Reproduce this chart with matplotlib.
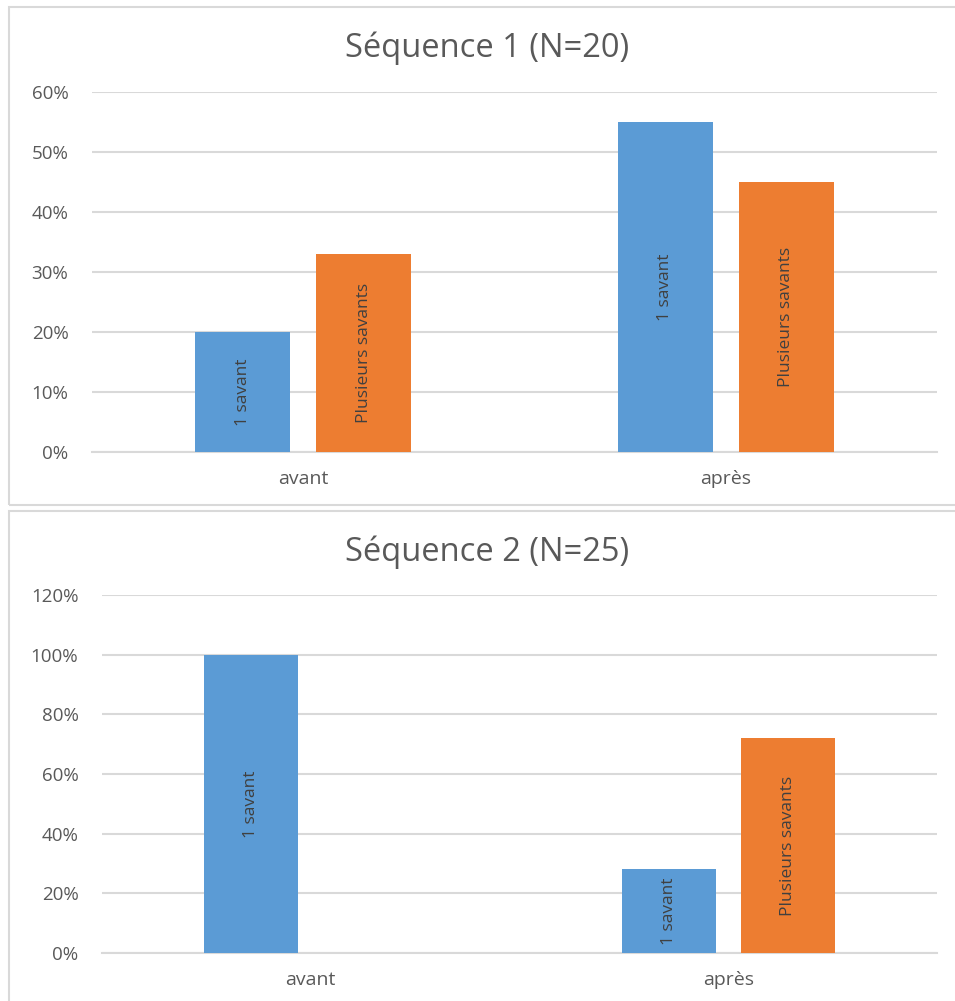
import matplotlib
matplotlib.use("Agg")
import matplotlib.pyplot as plt
from matplotlib.patches import Rectangle
from matplotlib.ticker import PercentFormatter
import numpy as np

plt.rcParams['font.family'] = ['Open Sans', 'DejaVu Sans']

categories = ["avant", "après"]
series_names = ["1 savant", "Plusieurs savants"]

seq1_title = "Séquence 1 (N=20)"
seq1_un = [20, 55]
seq1_plusieurs = [33, 45]
seq1_ticks = [0, 10, 20, 30, 40, 50, 60]

seq2_title = "Séquence 2 (N=25)"
seq2_un = [100, 28]
seq2_plusieurs = [0, 72]
seq2_ticks = [0, 20, 40, 60, 80, 100, 120]

BLUE = "#5B9BD5"
ORANGE = "#ED7D31"
TEXT = "#595959"
GRID = "#D9D9D9"


def draw_panel(fig, rect, title, title_y, un, plusieurs, ticks):
    ax = fig.add_axes(rect)
    x = np.arange(len(categories))
    w = 0.225
    off = 0.143
    bars = [
        ax.bar(x - off, un, w, color=BLUE, zorder=3),
        ax.bar(x + off, plusieurs, w, color=ORANGE, zorder=3),
    ]
    for name, bc in zip(series_names, bars):
        for b in bc:
            h = b.get_height()
            if h <= 0:
                continue
            ax.text(b.get_x() + b.get_width() / 2, h / 2, name, rotation=90,
                    ha="center", va="center", fontsize=12.5, color="#404040",
                    zorder=4)
    ax.set_xlim(-0.5, len(categories) - 0.5)
    ax.set_ylim(ticks[0], ticks[-1])
    ax.set_yticks(ticks)
    ax.yaxis.set_major_formatter(PercentFormatter(decimals=0))
    ax.set_xticks(x)
    ax.set_xticklabels(categories)
    ax.tick_params(axis="y", length=0, pad=17, labelsize=13.5, labelcolor=TEXT)
    ax.tick_params(axis="x", length=0, pad=13, labelsize=14, labelcolor=TEXT)
    ax.grid(axis="y", color=GRID, linewidth=1.5, zorder=0)
    ax.set_axisbelow(True)
    for s in ["top", "right", "left"]:
        ax.spines[s].set_visible(False)
    ax.spines["bottom"].set_color(GRID)
    ax.spines["bottom"].set_linewidth(1.5)
    fig.text(0.51, title_y, title, ha="center", va="center", fontsize=23.5,
             color=TEXT)
    return ax


fig = plt.figure(figsize=(9.55, 10.01), dpi=100)

# chart borders
fig.patches.append(Rectangle((9 / 955, 1 - 505 / 1001), 950 / 955, 498 / 1001,
                             transform=fig.transFigure, fill=False,
                             edgecolor=GRID, linewidth=1.5))
fig.patches.append(Rectangle((9 / 955, -0.01), 950 / 955, 1 - 511 / 1001 + 0.01,
                             transform=fig.transFigure, fill=False,
                             edgecolor=GRID, linewidth=1.5))

draw_panel(fig, [92 / 955, 1 - 452 / 1001, 845 / 955, 360 / 1001],
           seq1_title, 1 - 48 / 1001, seq1_un, seq1_plusieurs, seq1_ticks)
draw_panel(fig, [102 / 955, 1 - 953 / 1001, 835 / 955, 358 / 1001],
           seq2_title, 1 - 552 / 1001, seq2_un, seq2_plusieurs, seq2_ticks)

fig.savefig("out.png", dpi=100)
